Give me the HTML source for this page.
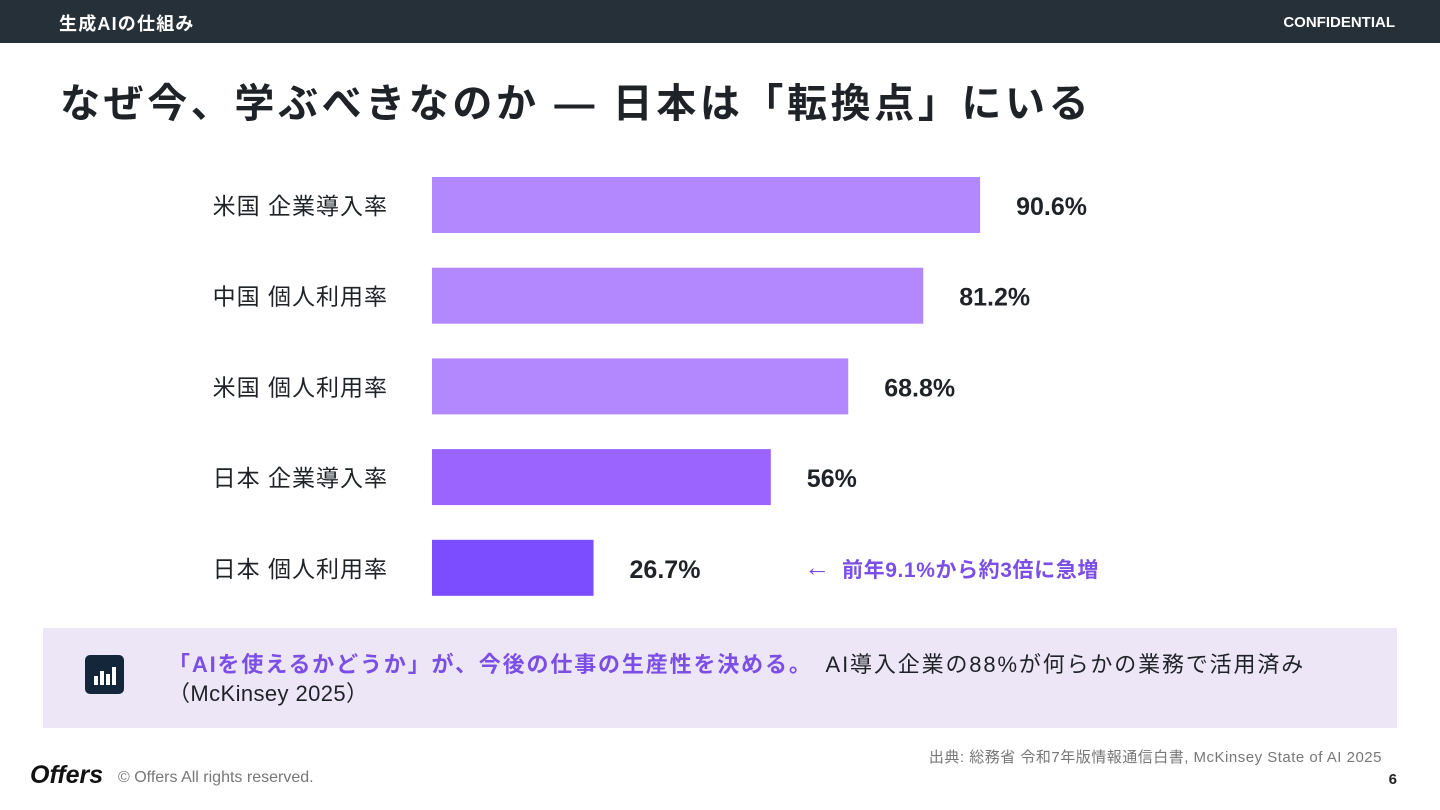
<!DOCTYPE html>
<html><head><meta charset="utf-8"><style>
*{margin:0;padding:0;box-sizing:border-box}
body{width:1440px;height:810px;position:relative;background:#fff;font-family:"Liberation Sans","Noto Sans CJK JP",sans-serif;overflow:hidden;color:#1f2328}
.abs{position:absolute}
</style></head><body>
<div class="abs" style="left:0;top:0;width:1440px;height:43px;background:#263039"></div>
<div class="abs" style="left:59px;top:10px;font-size:18px;font-weight:bold;color:#fff;letter-spacing:1.2px">生成AIの仕組み</div>
<div class="abs" style="right:45px;top:14px;font-size:15px;font-weight:bold;color:#fff">CONFIDENTIAL</div>
<div class="abs" style="left:60px;top:71px;font-size:40px;font-weight:bold;color:#1f2328;white-space:nowrap;letter-spacing:3.6px">なぜ今、学ぶべきなのか — 日本は「転換点」にいる</div>
<svg class="abs" style="left:0;top:0" width="1440" height="620" id="chart"></svg>
<div class="abs" style="left:43px;top:628px;width:1354px;height:100px;background:#ede6f6"></div>
<div class="abs" style="left:85px;top:655px;width:39px;height:39px;background:#13263a;border-radius:5px">
<svg width="39" height="39"><rect x="9" y="21" width="4" height="9" fill="#fff"/><rect x="15" y="16" width="4" height="14" fill="#fff"/><rect x="21" y="19" width="4" height="11" fill="#fff"/><rect x="27" y="12" width="4" height="18" fill="#fff"/></svg></div>
<div class="abs" style="left:168px;top:650px;width:1200px;font-size:22px;line-height:29px;white-space:nowrap"><span style="letter-spacing:1.85px"><span style="color:#7b4fe6;font-weight:bold">「AIを使えるかどうか」が、今後の仕事の生産性を決める。</span>　AI導入企業の88%が何らかの業務で活用済み</span><br><span style="letter-spacing:0.4px">（McKinsey 2025）</span></div>
<div class="abs" style="right:58px;top:746px;font-size:15px;color:#777;letter-spacing:0.5px">出典: 総務省 令和7年版情報通信白書, McKinsey State of AI 2025</div>
<div class="abs" style="left:30px;top:761px;font-size:25px;font-style:italic;font-weight:bold;color:#111">Offers</div>
<div class="abs" style="left:118px;top:769px;font-size:16px;color:#777">© Offers All rights reserved.</div>
<div class="abs" style="right:43px;top:771px;font-size:15px;font-weight:bold;color:#222">6</div>
<script>
const categories=["米国 企業導入率","中国 個人利用率","米国 個人利用率","日本 企業導入率","日本 個人利用率"];
const values=[90.6,81.2,68.8,56,26.7];
const valueLabels=["90.6%","81.2%","68.8%","56%","26.7%"];
const barColors=["#b388ff","#b388ff","#b388ff","#9b63ff","#7c4dff"];
const ns="http://www.w3.org/2000/svg";
const svg=document.getElementById('chart');
const x0=432,scale=605/100,top0=177,step=90.7,bh=56;
const xs=v=>x0+v*scale;
const ys=i=>top0+i*step;
function mk(t,a){const e=document.createElementNS(ns,t);for(const k in a)e.setAttribute(k,a[k]);svg.appendChild(e);return e;}
categories.forEach((c,i)=>{
  const y=ys(i);
  const r=mk('rect',{x:x0,y:y,width:xs(values[i])-x0,height:bh,fill:barColors[i]});
  
  
  const l=mk('text',{x:388,y:y+bh/2+9,'text-anchor':'end','font-size':23,'letter-spacing':1.0,fill:'#1f2328'});
  l.textContent=c;
  
  
  const v=mk('text',{x:xs(values[i])+36,y:y+bh/2+10,'font-size':25,'font-weight':'bold',fill:'#1f2328'});
  v.textContent=valueLabels[i];
  
  
});
const arr=mk('text',{x:804,y:ys(4)+bh/2+8,'font-size':26,fill:'#7b4fe6'});
arr.textContent="←";


const a=mk('text',{x:842,y:ys(4)+bh/2+9,'font-size':21,'font-weight':'bold',fill:'#7b4fe6','letter-spacing':0.6});
a.textContent="前年9.1%から約3倍に急増";


</script>
</body></html>
